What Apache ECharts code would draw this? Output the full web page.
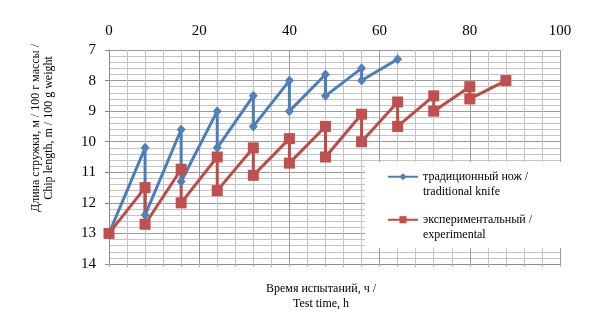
<!DOCTYPE html>
<html>
<head>
<meta charset="utf-8">
<script src="https://cdn.jsdelivr.net/npm/echarts@6/dist/echarts.min.js"></script>
<style>html,body{margin:0;padding:0;background:#fff;}#c{width:603px;height:322px;}</style>
</head>
<body>
<div id="c"></div>
<script>
const seriesNames = ['традиционный нож /\ntraditional knife', 'экспериментальный /\nexperimental'];
const timeTraditional = [0, 8, 8, 16, 16, 24, 24, 32, 32, 40, 40, 48, 48, 56, 56, 64];
const chipTraditional = [13, 10.2, 12.4, 9.6, 11.3, 9.0, 10.2, 8.5, 9.5, 8.0, 9.0, 7.8, 8.5, 7.6, 8.0, 7.3];
const timeExperimental = [0, 8, 8, 16, 16, 24, 24, 32, 32, 40, 40, 48, 48, 56, 56, 64, 64, 72, 72, 80, 80, 88];
const chipExperimental = [13, 11.5, 12.7, 10.9, 12.0, 10.5, 11.6, 10.2, 11.1, 9.9, 10.7, 9.5, 10.5, 9.1, 10.0, 8.7, 9.5, 8.5, 9.0, 8.2, 8.6, 8.0];
const xAxisTitle = 'Время испытаний, ч /\nTest time, h';
const yAxisTitle = 'Длина стружки, м / 100 г массы /\nChip length, m / 100 g weight';

const FONT = '"Liberation Serif", "Times New Roman", serif';
const pairs = (xs, ys) => xs.map((x, i) => [x, ys[i]]);

const chart = echarts.init(document.getElementById('c'), null, {renderer: 'canvas'});
chart.setOption({
  animation: false,
  backgroundColor: '#fff',
  grid: {left: 109, right: 43, top: 50, bottom: 58},
  xAxis: [{
    type: 'value', position: 'top', min: 0, max: 100, interval: 20,
    axisLine: {show: false}, axisTick: {show: false},
    axisLabel: {fontFamily: FONT, fontSize: 15, color: '#000', margin: 11},
    splitLine: {show: true, lineStyle: {color: '#9a9a9a', width: 1}},
    minorTick: {show: false, splitNumber: 5},
    minorSplitLine: {show: true, lineStyle: {color: '#c4c4c4', width: 1}}
  }, {
    type: 'value', position: 'bottom', min: 0, max: 100, interval: 4,
    axisLine: {show: true, lineStyle: {color: '#8a8a8a', width: 1}},
    axisTick: {show: true, length: 3, lineStyle: {color: '#b0b0b0'}},
    axisLabel: {show: false}, splitLine: {show: false}
  }],
  yAxis: {
    type: 'value', inverse: true, min: 7, max: 14, interval: 1,
    axisLine: {show: true, lineStyle: {color: '#8a8a8a', width: 1}},
    axisTick: {show: true, length: 4, lineStyle: {color: '#8a8a8a'}},
    axisLabel: {fontFamily: FONT, fontSize: 15, color: '#000', margin: 13},
    splitLine: {show: true, lineStyle: {color: '#9a9a9a', width: 1}},
    minorTick: {show: false, splitNumber: 5},
    minorSplitLine: {show: true, lineStyle: {color: '#c4c4c4', width: 1}}
  },
  legend: {
    orient: 'vertical', left: 387, top: 153.5, padding: 0, itemGap: -3.5,
    itemWidth: 30, itemHeight: 9,
    formatter: name => ' \n' + name,
    textStyle: {fontFamily: FONT, fontSize: 12, color: '#000', lineHeight: 15.5},
    data: seriesNames, z: 5
  },
  graphic: [
    {type: 'rect', z: 3, shape: {x: 365, y: 162, width: 196, height: 86}, style: {fill: '#fff'}},
    {type: 'text', z: 3, x: 42, y: 128, rotation: Math.PI / 2,
      style: {text: yAxisTitle, font: '12px ' + FONT, fill: '#000', textAlign: 'center', textVerticalAlign: 'middle', lineHeight: 13}},
    {type: 'text', z: 3, x: 321, y: 296,
      style: {text: xAxisTitle, font: '12px ' + FONT, fill: '#000', textAlign: 'center', textVerticalAlign: 'middle', lineHeight: 15}}
  ],
  series: [{
    name: seriesNames[0], type: 'line', xAxisIndex: 0,
    data: pairs(timeTraditional, chipTraditional),
    symbol: 'diamond', symbolSize: [9, 10],
    lineStyle: {color: '#4A7EBB', width: 3},
    itemStyle: {color: '#4F81BD', borderWidth: 0},
    z: 4
  }, {
    name: seriesNames[1], type: 'line', xAxisIndex: 0,
    data: pairs(timeExperimental, chipExperimental),
    symbol: 'rect', symbolSize: 11,
    lineStyle: {color: '#BE4B48', width: 3},
    itemStyle: {color: '#C0504D', borderWidth: 0},
    z: 4
  }]
});
</script>
</body>
</html>
